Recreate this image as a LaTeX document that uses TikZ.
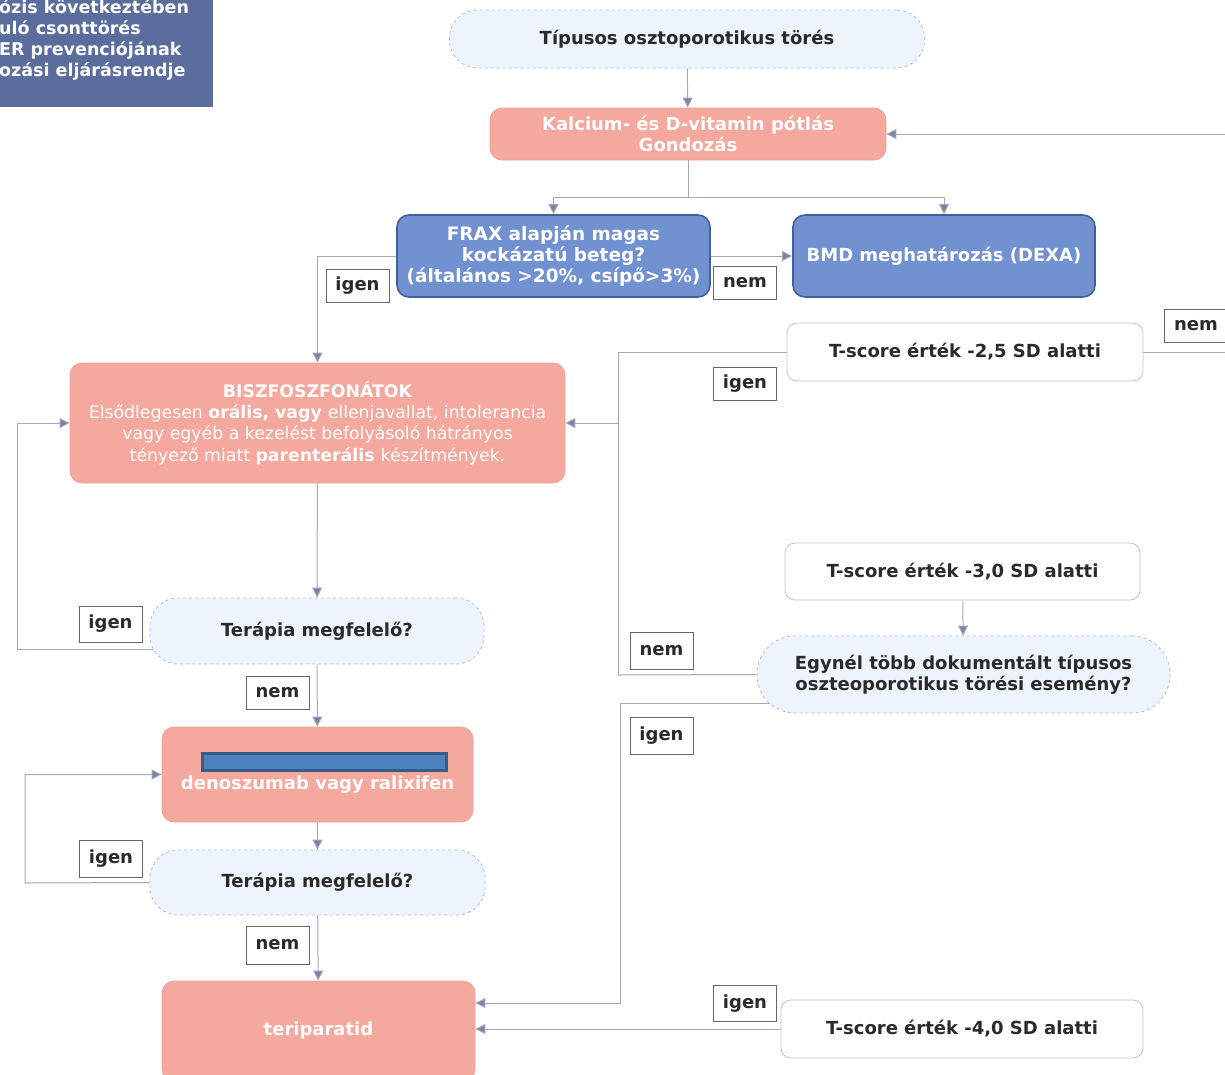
\documentclass[tikz,border=0pt]{standalone}
\usepackage{fontspec}
\setmainfont{DejaVu Sans}
\usetikzlibrary{arrows.meta}
\pgfdeclarelayer{paper}
\pgfdeclarelayer{wires}
\pgfsetlayers{paper,wires,main}
\definecolor{salm}{HTML}{F4A89E}
\definecolor{salmd}{HTML}{EDA49A}
\definecolor{bluef}{HTML}{7191D1}
\definecolor{blued}{HTML}{40609E}
\definecolor{pillf}{HTML}{EEF4FC}
\definecolor{pilld}{HTML}{B4C0D6}
\definecolor{wboxd}{HTML}{C4C4C8}
\definecolor{linec}{HTML}{A3A8BC}
\definecolor{tipc}{HTML}{7C82A2}
\definecolor{titlef}{HTML}{5A6D9C}
\definecolor{redf}{HTML}{4F81BD}
\definecolor{redd}{HTML}{385D8A}
\definecolor{txt}{HTML}{2A2A2A}
\begin{document}
\begin{tikzpicture}[x=1pt,y=-1pt,
  every node/.style={font=\fontsize{18}{21}\selectfont\bfseries, align=center, inner sep=0pt},
  pill/.style={draw=pilld, dashed, fill=pillf, rounded corners=28pt, text=txt, line width=0.8pt},
  wbox/.style={draw=wboxd, fill=white, rounded corners=10pt, text=txt, line width=0.8pt},
  salbox/.style={draw=salmd, fill=salm, rounded corners=12pt, text=white, line width=0.8pt},
  bbox/.style={draw=blued, fill=bluef, rounded corners=12pt, text=white, line width=1.6pt},
  lbl/.style={draw=black!60, fill=white, text=txt, minimum width=63pt, minimum height=33pt, line width=0.8pt},
  conn/.style={draw=linec, line width=1pt},
  arr/.style={conn, -{Triangle[length=10pt,width=10pt,fill=tipc]}}
]
\useasboundingbox (0,0) rectangle (1225,1074);
\clip (0,0) rectangle (1225,1074);
\begin{pgfonlayer}{paper}
\fill[white] (0,0) rectangle (1225,1074);
\end{pgfonlayer}

% title block (cut off)
\fill[titlef] (0,0) rectangle (213,107);
\node[text=white, anchor=west, align=left, font=\fontsize{17.5}{21}\selectfont\bfseries] (title) at (-1,40)
  {ózis következtében\\uló csonttörés\\ER prevenciójának\\ozási eljárásrendje};

% nodes
\node[pill, minimum width=475pt, minimum height=58pt] (top) at (687,39) {Típusos osztoporotikus törés};
\node[salbox, minimum width=396pt, minimum height=52pt] (kal) at (688,134) {Kalcium- és D-vitamin pótlás\\Gondozás};
\node[bbox, minimum width=313pt, minimum height=82pt, font=\fontsize{18.5}{21}\selectfont\bfseries] (frax) at (553.5,256) {FRAX alapján magas\\kockázatú beteg?\\(általános >20\%, csípő>3\%)};
\node[bbox, minimum width=302pt, minimum height=82pt] (bmd) at (944,256) {BMD meghatározás (DEXA)};
\node[wbox, minimum width=356pt, minimum height=58pt] (t25) at (965,352) {T-score érték -2,5 SD alatti};
\node[salbox, minimum width=495pt, minimum height=120pt, font=\fontsize{17.3}{21.3}\selectfont\bfseries] (bisz) at (317.5,423)
  {BISZFOSZFONÁTOK\\
   {\mdseries Elsődlegesen \bfseries orális, vagy \mdseries ellenjavallat, intolerancia}\\
   {\mdseries vagy egyéb a kezelést befolyásoló hátrányos}\\
   {\mdseries tényező miatt \bfseries parenterális \mdseries készítmények.}};
\node[pill, minimum width=334pt, minimum height=66pt] (ter1) at (317,631) {Terápia megfelelő?};
\node[salbox, minimum width=311pt, minimum height=95pt] (den) at (317.5,774.5) {\phantom{X}\\denoszumab vagy ralixifen};
\node[pill, minimum width=335pt, minimum height=65pt] (ter2) at (317.5,882.5) {Terápia megfelelő?};
\node[salbox, minimum width=313pt, minimum height=100pt] (teri) at (318.5,1031) {teriparatid};
\node[wbox, minimum width=355pt, minimum height=57pt] (t30) at (962.5,571.5) {T-score érték -3,0 SD alatti};
\node[pill, rounded corners=38pt, minimum width=413pt, minimum height=77pt] (egy) at (963.5,674.5) {Egynél több dokumentált típusos\\oszteoporotikus törési esemény?};
\node[wbox, minimum width=362pt, minimum height=58pt] (t40) at (962,1029) {T-score érték -4,0 SD alatti};

% redaction bar
\draw[redd, fill=redf, line width=3pt] (202,753) rectangle (446,770);

% labels
\node[lbl] (l1) at (357.5,285.5) {igen};
\node[lbl] (l2) at (745,283) {nem};
\node[lbl] (l3) at (1196,325.5) {nem};
\node[lbl] (l4) at (745,383.5) {igen};
\node[lbl, minimum height=36pt] (l5) at (110.5,624) {igen};
\node[lbl] (l6) at (277.5,692.5) {nem};
\node[lbl, minimum height=37pt] (l7) at (661.5,651) {nem};
\node[lbl, minimum height=37pt] (l8) at (661.5,736) {igen};
\node[lbl, minimum height=37pt] (l9) at (111,859) {igen};
\node[lbl, minimum height=38pt] (l10) at (277.5,945) {nem};
\node[lbl, minimum height=36pt] (l11) at (745,1003.5) {igen};

% bend coordinates
\coordinate (sp) at (688,197);
\coordinate (c1) at (618,352);
\coordinate (c2) at (618,423);
\coordinate (c3) at (618,675);
\coordinate (e1) at (800,703);
\coordinate (c4) at (620,703);
\coordinate (c5) at (620,1003);
\coordinate (s1) at (200,649);
\coordinate (c6) at (17,649);
\coordinate (c7) at (17,423);
\coordinate (c8) at (25,883);
\coordinate (c9) at (25,774.5);
\coordinate (r1) at (1232,352);
\coordinate (r2) at (1232,134);

\begin{pgfonlayer}{wires}
\draw[arr] (top) -- (kal);
\draw[conn] (kal.south) -- (sp);
\draw[arr] (sp) -| (frax.north);
\draw[arr] (sp) -| (bmd.north);
\draw[arr] (frax.east) -- (bmd.west);
\draw[arr] (frax.west) -| (bisz.north);
\draw[conn] (t25.west) -- (c1) -- (c2);
\draw[arr] (c3) -- (c2) -- (bisz.east);
\draw[conn] (egy.west) -- (c3);
\draw[arr] (e1) -- (c4) -- (c5) -- (teri.east |- c5);
\draw[arr] (t40.west) -- (teri.east |- t40.west);
\draw[arr] (s1) -- (c6) -- (c7) -- (bisz.west);
\draw[arr] (ter2.west) -- (c8) -- (c9) -- (den.west);
\draw[arr] (bisz) -- (ter1);
\draw[arr] (ter1) -- (den);
\draw[arr] (den) -- (ter2);
\draw[arr] (ter2) -- (teri);
\draw[arr] (t30) -- (egy);
\draw[arr] (t25.east) -- (r1) -- (r2) -- (kal.east);
\end{pgfonlayer}
\end{tikzpicture}
\end{document}
